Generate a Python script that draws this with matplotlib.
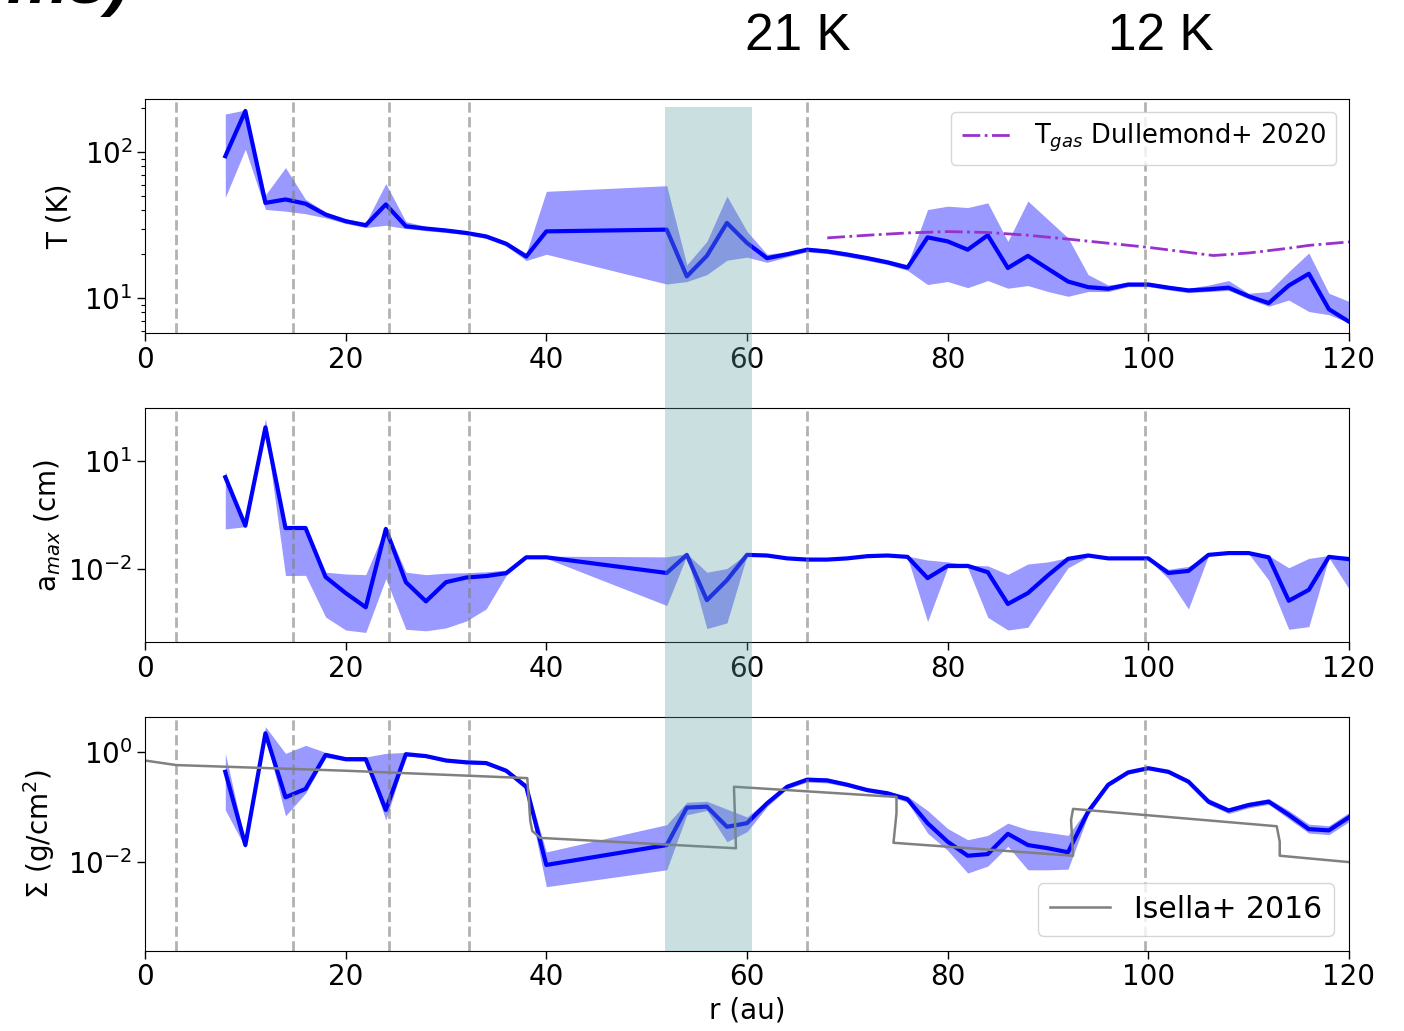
import numpy as np
import matplotlib
matplotlib.use("Agg")
import matplotlib.pyplot as plt
from matplotlib.patches import Rectangle
from matplotlib.transforms import blended_transform_factory
from matplotlib.ticker import FixedLocator, NullLocator

# Radial grid of the fitted profiles (au)
r = np.array([8, 10, 12, 14, 16, 18, 20, 22, 24, 26, 28, 30, 32, 34, 36, 38, 40,
              52, 54, 56, 58, 60, 62, 64, 66, 68, 70, 72, 74, 76, 78, 80, 82, 84,
              86, 88, 90, 92, 94, 96, 98, 100, 102, 104, 106, 108, 110, 112, 114,
              116, 118, 120])

# Dust temperature (K): best fit and 1-sigma range
T_best = [94, 192, 45, 47.5, 44.4, 37.4, 33.7, 31.6, 43.9, 31.1, 30.0, 29.1, 28.0, 26.5, 23.6, 19.3, 28.7,
          29.5, 14.1, 19.5, 32.8, 23.9, 18.8, 20.0, 21.5, 20.9, 19.9, 18.8, 17.6, 16.2, 26.1, 24.5, 21.5, 27.0,
          16.1, 19.5, 15.9, 13.0, 11.9, 11.6, 12.4, 12.4, 11.8, 11.3, 11.5, 11.8, 10.3, 9.25, 12.2,
          14.7, 8.4, 6.9]
T_lo = [49, 105, 40.6, 39.5, 37.9, 35.5, 32.5, 30.5, 31.6, 30.0, 29.0, 28.2, 27.2, 25.7, 22.8, 18.1, 20.0,
        12.5, 13.0, 14.5, 18.2, 19.1, 17.6, 19.2, 20.8, 20.2, 19.2, 18.1, 17.0, 15.5, 12.4, 13.0, 11.8, 13.2,
        11.7, 12.2, 11.1, 10.3, 11.1, 11.1, 12.0, 12.0, 11.4, 10.9, 11.1, 11.3, 9.9, 8.8, 9.7,
        8.1, 7.7, 6.8]
T_hi = [183, 195, 51, 78.5, 47.5, 39, 35, 33, 61, 33.5, 31, 30, 28.8, 27.3, 24.4, 20.3, 54,
        59, 16.9, 24.5, 50, 28.7, 20.0, 20.8, 22.3, 21.7, 20.6, 19.5, 18.3, 17.0, 40.5, 42.7, 41.8, 45,
        24.5, 46.3, 34.6, 25.9, 14.5, 12.3, 12.8, 12.8, 12.2, 11.7, 12.3, 13.2, 10.8, 11.1, 15.2,
        20.4, 10.8, 9.5]

# Maximum grain size (cm)
a_best = [3.5, 0.16, 83, 0.138, 0.138, 0.0061, 0.0022, 0.00089, 0.13, 0.0044, 0.0013, 0.0044, 0.0059, 0.0065,
          0.0078, 0.0214, 0.0214,
          0.0079, 0.025, 0.0014, 0.005, 0.025, 0.024, 0.020, 0.0185, 0.0185, 0.020, 0.023, 0.024, 0.022,
          0.0057, 0.0124, 0.0124, 0.0083, 0.0011, 0.0022, 0.0068, 0.0194, 0.024, 0.020, 0.020, 0.020,
          0.0079, 0.009, 0.025, 0.028, 0.028, 0.0214, 0.00135, 0.0027, 0.022, 0.019]
a_lo = [0.13, 0.15, 75, 0.0067, 0.0068, 0.00048, 0.00021, 0.00018, 0.0055, 0.00022, 0.0002, 0.00024, 0.00037,
        0.0008, 0.0068, 0.020, 0.020,
        0.001, 0.024, 0.00023, 0.00033, 0.024, 0.023, 0.019, 0.0178, 0.0178, 0.019, 0.022, 0.023, 0.021,
        0.00036, 0.011, 0.011, 0.00047, 0.00021, 0.00025, 0.0017, 0.011, 0.022, 0.019, 0.019, 0.019,
        0.0055, 0.0008, 0.024, 0.027, 0.027, 0.005, 0.00022, 0.00026, 0.021, 0.0029]
a_hi = [5.0, 0.17, 142, 0.14, 0.14, 0.0083, 0.0074, 0.0071, 0.15, 0.0083, 0.0071, 0.0078, 0.0080, 0.0085,
        0.0095, 0.023, 0.023,
        0.022, 0.027, 0.0083, 0.0105, 0.027, 0.025, 0.021, 0.0195, 0.0195, 0.021, 0.024, 0.025, 0.023,
        0.018, 0.016, 0.013, 0.0124, 0.0072, 0.014, 0.016, 0.021, 0.026, 0.021, 0.021, 0.021,
        0.010, 0.012, 0.026, 0.029, 0.029, 0.024, 0.011, 0.020, 0.024, 0.023]

# Dust surface density (g/cm^2)
S_best = [0.43, 0.020, 2.16, 0.148, 0.21, 0.87, 0.73, 0.73, 0.087, 0.90, 0.83, 0.69, 0.64, 0.62, 0.45, 0.23, 0.0087,
          0.020, 0.096, 0.10, 0.043, 0.05, 0.115, 0.23, 0.31, 0.30, 0.25, 0.20, 0.175, 0.136, 0.050, 0.023,
          0.0128, 0.0137, 0.032, 0.020, 0.0175, 0.0148, 0.081, 0.25, 0.42, 0.50, 0.43, 0.285, 0.123, 0.085,
          0.107, 0.123, 0.071, 0.039, 0.037, 0.064]
S_lo = [0.087, 0.018, 1.9, 0.068, 0.175, 0.78, 0.68, 0.67, 0.057, 0.83, 0.78, 0.65, 0.60, 0.58, 0.42, 0.20, 0.0035,
        0.0071, 0.071, 0.085, 0.023, 0.035, 0.10, 0.21, 0.28, 0.27, 0.23, 0.185, 0.16, 0.12, 0.033, 0.016,
        0.0062, 0.0083, 0.019, 0.0071, 0.0071, 0.0073, 0.07, 0.23, 0.39, 0.47, 0.40, 0.26, 0.11, 0.075,
        0.095, 0.11, 0.06, 0.033, 0.031, 0.053]
S_hi = [0.93, 0.022, 2.85, 0.93, 1.3, 0.97, 0.80, 0.80, 0.93, 0.97, 0.88, 0.74, 0.68, 0.66, 0.48, 0.26, 0.015,
        0.047, 0.12, 0.125, 0.09, 0.065, 0.13, 0.25, 0.34, 0.33, 0.27, 0.215, 0.19, 0.155, 0.085, 0.04,
        0.025, 0.030, 0.05, 0.038, 0.034, 0.030, 0.095, 0.27, 0.45, 0.54, 0.46, 0.31, 0.14, 0.095,
        0.12, 0.14, 0.085, 0.048, 0.045, 0.078]

# Gas temperature model (Dullemond+ 2020)
r_gas = [68, 72, 76, 80, 84, 88, 92, 96, 100, 104, 106.5, 110, 114, 116, 120]
T_gas = [25.9, 27.0, 28.0, 28.6, 28.2, 27.0, 25.4, 23.8, 22.3, 20.6, 19.6, 20.4, 22.0, 23.0, 24.3]

# Surface density model (Isella+ 2016)
r_isella = [0, 3.1, 20, 38.1, 38.4, 38.6, 39.4, 58.9, 58.7, 74.9, 74.9, 74.6, 92.5, 92.3, 92.5,
            112.8, 113.1, 113.1, 120]
S_isella = [0.69, 0.57, 0.45, 0.33, 0.055, 0.036, 0.027, 0.0175, 0.23, 0.15, 0.076, 0.022, 0.0128,
            0.057, 0.091, 0.044, 0.023, 0.0128, 0.0098]

# Ring / gap markers and the highlighted annulus (au)
r_marks = [3.1, 14.75, 24.3, 32.3, 66.0, 99.7]
band = (51.8, 60.5)
ring_labels = [(65.1, "21 K"), (101.2, "12 K")]

plt.rcParams["font.family"] = ["DejaVu Sans"]
plt.rcParams["xtick.labelsize"] = 20
plt.rcParams["ytick.labelsize"] = 20
plt.rcParams["axes.labelsize"] = 20

fig = plt.figure(figsize=(14.04, 10.31), dpi=100)
ax1 = fig.add_axes([0.1033, 0.6767, 0.8575, 0.2273])
ax2 = fig.add_axes([0.1033, 0.3770, 0.8575, 0.2270])
ax3 = fig.add_axes([0.1033, 0.0779, 0.8575, 0.2270])

panels = [
    (ax1, T_best, T_lo, T_hi, (5.74, 232)),
    (ax2, a_best, a_lo, a_hi, (9.6e-5, 280)),
    (ax3, S_best, S_lo, S_hi, (2.4e-4, 4.33)),
]
for ax, best, lo, hi, ylim in panels:
    ax.set_yscale("log")
    ax.fill_between(r, lo, hi, color="blue", alpha=0.4, lw=0)
    ax.plot(r, best, color="blue", lw=3)
    for xm in r_marks:
        ax.axvline(xm, color="gray", ls="--", lw=2, alpha=0.6)
    ax.set_xlim(0, 120)
    ax.set_ylim(*ylim)
    ax.set_xticks([0, 20, 40, 60, 80, 100, 120])
    ax.tick_params(which="major", length=5.5, width=1)
    ax.tick_params(which="minor", length=3, width=0.8)

ax1.plot(r_gas, T_gas, color="darkorchid", ls="-.", lw=2, label=r"T$_{gas}$ Dullemond+ 2020")
ax1.legend(loc="upper right", fontsize=18.5)
ax1.set_ylabel("T (K)", labelpad=8)

ax2.yaxis.set_major_locator(FixedLocator([1e-2, 1e1]))
ax2.yaxis.set_minor_locator(NullLocator())
ax2.set_ylabel(r"a$_{max}$ (cm)")

ax3.plot(r_isella, S_isella, color="gray", lw=1.8, label="Isella+ 2016")
ax3.yaxis.set_major_locator(FixedLocator([1e-2, 1e0]))
ax3.yaxis.set_minor_locator(NullLocator())
ax3.legend(loc="lower right", fontsize=21.5)
ax3.set_ylabel(r"$\Sigma$ (g/cm$^2$)", labelpad=8)
ax3.set_xlabel("r (au)")

# Highlighted annulus spanning all three panels
tr = blended_transform_factory(ax3.transData, fig.transFigure)
y_bot = ax3.get_position().y0
y_top = 1 - 107 / 1031
fig.add_artist(Rectangle((band[0], y_bot), band[1] - band[0], y_top - y_bot,
                         transform=tr, color="cadetblue", alpha=0.33, lw=0, zorder=5))

# Ring temperature annotations above the top panel
tr1 = blended_transform_factory(ax1.transData, fig.transFigure)
for xr, txt in ring_labels:
    fig.text(xr, 1 - 50 / 1031, txt, transform=tr1, ha="center", va="baseline",
             fontsize=37, family="Liberation Sans")

fig.text(130 / 1404, 1 - 3 / 1031, "ms)", ha="right", va="baseline", fontsize=50,
         family="Liberation Sans", fontweight="bold", style="italic")

fig.savefig("out.png", dpi=100)
